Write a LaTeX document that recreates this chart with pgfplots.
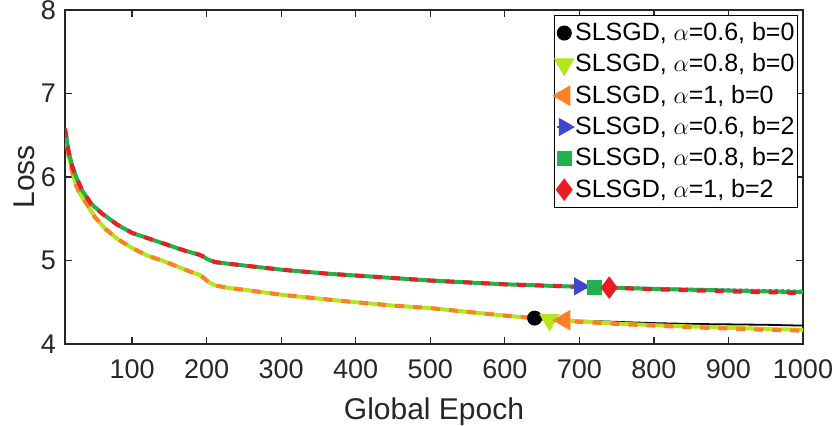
\documentclass[border=0pt]{standalone}
\usepackage{fontspec}
\setmainfont{Liberation Sans}
\usepackage{pgfplots}
\pgfplotsset{compat=1.18}

\definecolor{cblack}{HTML}{000000}
\definecolor{clime}{HTML}{B5E61D}
\definecolor{corange}{HTML}{FF7F27}
\definecolor{cblue}{HTML}{3F48CC}
\definecolor{cgreen}{HTML}{22B14C}
\definecolor{cred}{HTML}{ED1C24}
\definecolor{axgray}{HTML}{262626}

\begin{document}
\begin{tikzpicture}
\path[use as bounding box] (-32.5pt,-41pt) rectangle (386pt,172pt);
\begin{axis}[
  at={(0,0)}, anchor=south west,
  scale only axis, width=369pt, height=167pt,
  xmin=10, xmax=1000, ymin=4, ymax=8,
  xtick={100,200,...,1000}, ytick={4,5,6,7,8},
  tick align=inside, major tick length=3.5pt,
  axis line style={axgray, line width=0.6pt},
  every tick/.style={axgray, line width=0.6pt},
  tick label style={font=\fontsize{13.5}{15}\selectfont, text=axgray},
  /pgf/number format/assume math mode=true,
  /pgf/number format/1000 sep={},
  xticklabel style={yshift=-4.5pt},
  yticklabel style={xshift=-1pt},
  xlabel={Global Epoch}, ylabel={Loss},
  label style={font=\fontsize{15}{17}\selectfont, text=axgray},
  xlabel style={yshift=-2.5pt},
  ylabel style={yshift=-4pt},
  legend style={at={(rel axis cs:1,1)}, xshift=-2.5pt, yshift=-2.5pt, anchor=north east,
    draw=black, line width=0.5pt, fill=white,
    font=\fontsize{12.5}{14}\selectfont, row sep=1.1pt,
    inner xsep=0.5pt, inner ysep=1.5pt,
    nodes={inner xsep=1pt}},
  legend cell align=left,
  legend image code/.code={\draw[#1,mark repeat=2,mark phase=2] plot coordinates {(0cm,0cm)(0.12cm,0cm)(0.24cm,0cm)};},
]
% ---- b = 0 ----
\addplot[cblack, line width=0.9pt, forget plot] coordinates {
(10,6.55)(15,6.25)(20,6.05)(25,5.90)(30,5.80)(39,5.68)(50,5.52)(64,5.38)(80,5.26)(100,5.15)
(120,5.06)(140,5.00)(160,4.93)(180,4.86)(190,4.83)(195,4.80)(200,4.76)(205,4.73)(212,4.70)
(230,4.67)(250,4.65)(300,4.59)(365,4.53)(400,4.50)(450,4.46)(500,4.43)(566,4.37)(600,4.34)
(640,4.31)(700,4.28)(750,4.265)(800,4.25)(850,4.24)(900,4.235)(950,4.23)(1000,4.22)};
\addplot[clime, line width=2pt, forget plot] coordinates {
(10,6.55)(15,6.25)(20,6.05)(25,5.90)(30,5.80)(39,5.68)(50,5.52)(64,5.38)(80,5.26)(100,5.15)
(120,5.06)(140,5.00)(160,4.93)(180,4.86)(190,4.83)(195,4.80)(200,4.76)(205,4.73)(212,4.70)
(230,4.67)(250,4.65)(300,4.59)(365,4.53)(400,4.50)(450,4.46)(500,4.43)(566,4.37)(600,4.34)
(640,4.31)(700,4.27)(750,4.245)(800,4.225)(850,4.21)(900,4.195)(950,4.18)(1000,4.17)};
\addplot[corange, line width=2pt, dash pattern=on 4.5pt off 4.5pt, forget plot] coordinates {
(10,6.55)(15,6.25)(20,6.05)(25,5.90)(30,5.80)(39,5.68)(50,5.52)(64,5.38)(80,5.26)(100,5.15)
(120,5.06)(140,5.00)(160,4.93)(180,4.86)(190,4.83)(195,4.80)(200,4.76)(205,4.73)(212,4.70)
(230,4.67)(250,4.65)(300,4.59)(365,4.53)(400,4.50)(450,4.46)(500,4.43)(566,4.37)(600,4.34)
(640,4.31)(700,4.265)(750,4.24)(800,4.22)(850,4.20)(900,4.185)(950,4.17)(1000,4.16)};
% ---- b = 2 ----
\addplot[cblue, line width=1.3pt, dash pattern=on 1.5pt off 1.5pt, forget plot] coordinates {
(10,6.58)(15,6.30)(20,6.12)(25,6.00)(33,5.84)(45,5.68)(60,5.56)(80,5.43)(100,5.33)(120,5.27)
(150,5.18)(170,5.12)(190,5.07)(195,5.05)(200,5.02)(205,5.00)(212,4.98)(230,4.96)(250,4.94)
(300,4.89)(365,4.84)(400,4.82)(450,4.79)(500,4.76)(566,4.73)(600,4.715)(650,4.70)(700,4.69)
(800,4.665)(900,4.65)(1000,4.635)};
\addplot[cgreen, line width=2pt, forget plot] coordinates {
(10,6.58)(15,6.30)(20,6.12)(25,6.00)(33,5.84)(45,5.68)(60,5.56)(80,5.43)(100,5.33)(120,5.27)
(150,5.18)(170,5.12)(190,5.07)(195,5.05)(200,5.02)(205,5.00)(212,4.98)(230,4.96)(250,4.94)
(300,4.89)(365,4.84)(400,4.82)(450,4.79)(500,4.76)(566,4.73)(600,4.715)(650,4.70)(700,4.685)
(800,4.66)(900,4.64)(1000,4.62)};
\addplot[cred, line width=2pt, dash pattern=on 4.5pt off 4.5pt, forget plot] coordinates {
(10,6.58)(15,6.30)(20,6.12)(25,6.00)(33,5.84)(45,5.68)(60,5.56)(80,5.43)(100,5.33)(120,5.27)
(150,5.18)(170,5.12)(190,5.07)(195,5.05)(200,5.02)(205,5.00)(212,4.98)(230,4.96)(250,4.94)
(300,4.89)(365,4.84)(400,4.82)(450,4.79)(500,4.76)(566,4.73)(600,4.715)(650,4.70)(700,4.685)
(800,4.655)(900,4.63)(1000,4.61)};
% ---- markers ----
\addplot[cblack, line width=0.9pt, mark=*, mark size=3.3pt, mark options={solid}] coordinates {(640,4.31)};
\addlegendentry{SLSGD, $\alpha$=0.6, b=0}
\addplot[clime, line width=2pt, mark=triangle*, mark size=4pt, mark options={solid, rotate=180}] coordinates {(660,4.29)};
\addlegendentry{SLSGD, $\alpha$=0.8, b=0}
\addplot[corange, line width=2pt, dash pattern=on 4.5pt off 4.5pt, mark=triangle*, mark size=4pt, mark options={solid, rotate=90}] coordinates {(680,4.285)};
\addlegendentry{SLSGD, $\alpha$=1, b=0}
\addplot[cblue, line width=1.3pt, dash pattern=on 1.5pt off 1.5pt, mark=triangle*, mark size=4pt, mark options={solid, rotate=-90}] coordinates {(700,4.69)};
\addlegendentry{SLSGD, $\alpha$=0.6, b=2}
\addplot[cgreen, line width=2pt, mark=square*, mark size=2.8pt, mark options={solid}] coordinates {(720,4.68)};
\addlegendentry{SLSGD, $\alpha$=0.8, b=2}
\addplot[cred, line width=2pt, dash pattern=on 4.5pt off 4.5pt, mark=diamond*, mark size=4pt, mark options={solid}] coordinates {(740,4.675)};
\addlegendentry{SLSGD, $\alpha$=1, b=2}
\end{axis}
\end{tikzpicture}
\end{document}
